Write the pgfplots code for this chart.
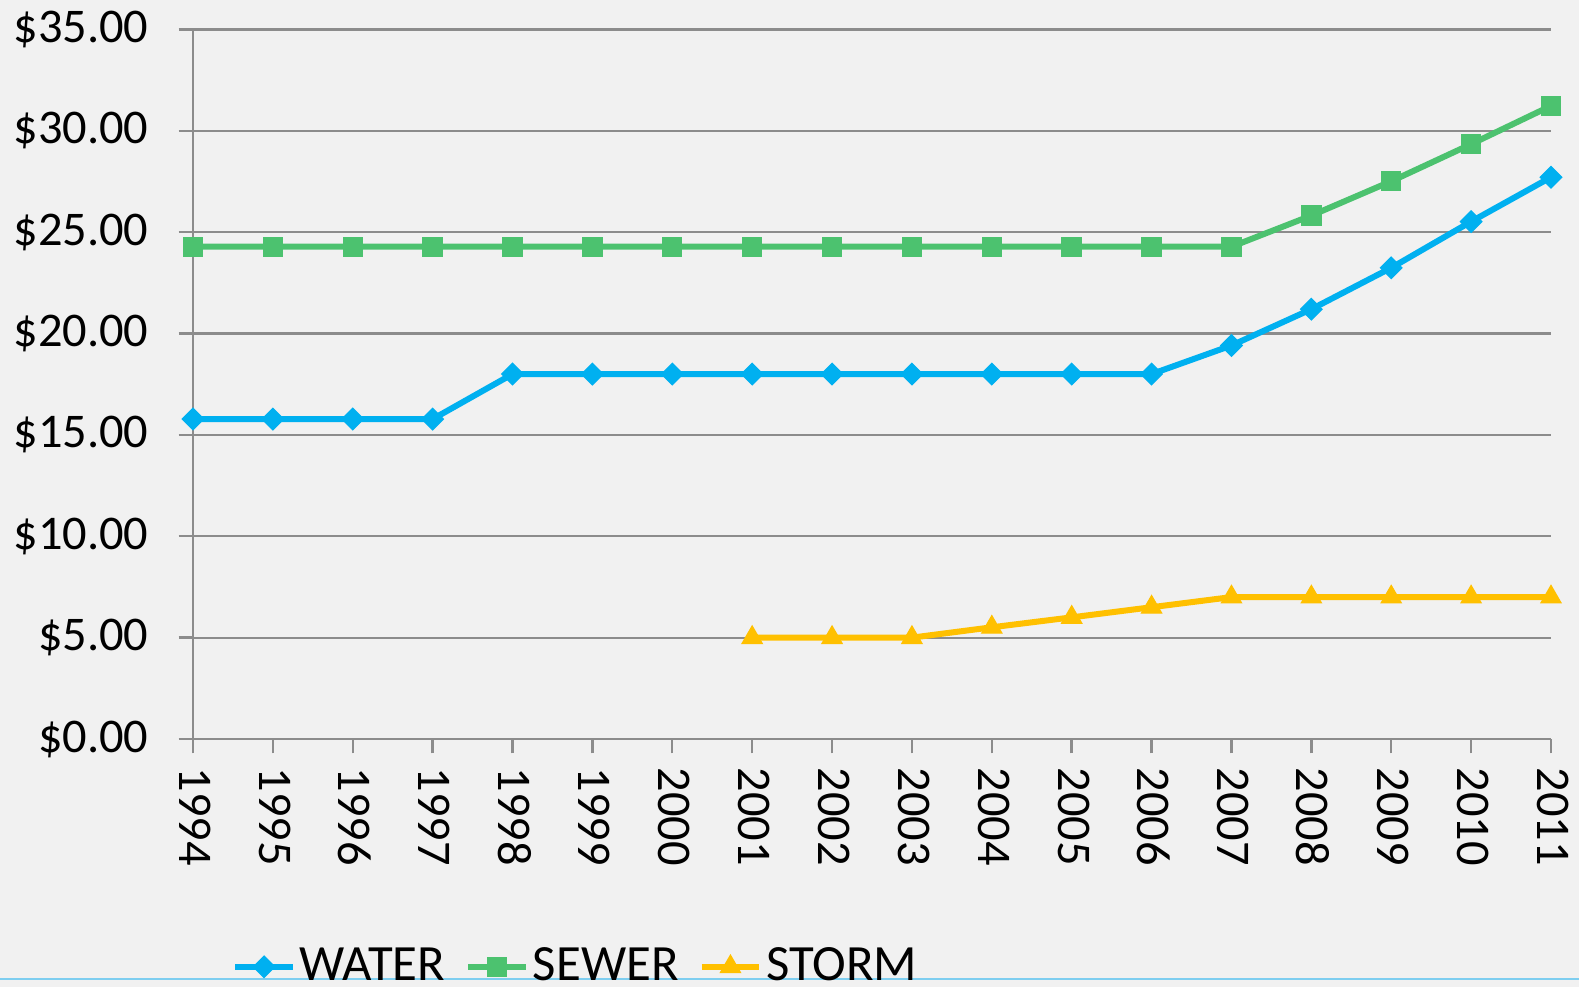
\documentclass[border=0pt]{standalone}
\usepackage{fontspec}
\setmainfont{Carlito}
\usepackage{pgfplots}
\pgfplotsset{compat=1.18}
\definecolor{bg}{HTML}{F1F1F1}
\definecolor{water}{HTML}{00B0F0}
\definecolor{sewer}{HTML}{4CC26F}
\definecolor{storm}{HTML}{FFC000}
\definecolor{gridc}{HTML}{8C8C8C}
\definecolor{lb}{HTML}{7ECEF0}
\begin{document}
\begin{tikzpicture}
\useasboundingbox (-48.25pt,-62pt) rectangle (346.5pt,184.75pt);
\fill[bg] (-48.25pt,-62pt) rectangle (346.5pt,184.75pt);
\draw[lb, line width=0.6pt] (-48.25pt,-60pt) -- (346.5pt,-60pt);
\begin{axis}[
  at={(0pt,0pt)}, anchor=south west,
  scale only axis, width=339.5pt, height=177.4pt,
  xmin=0, xmax=17, ymin=0, ymax=35,
  axis x line*=bottom, axis y line*=left,
  axis line style={gridc, line width=0.6pt, -},
  xtick={0,1,2,3,4,5,6,7,8,9,10,11,12,13,14,15,16,17},
  xticklabels={1994,1995,1996,1997,1998,1999,2000,2001,2002,2003,2004,2005,2006,2007,2008,2009,2010,2011},
  ytick={0,5,10,15,20,25,30,35},
  yticklabels={\$0.00,\$5.00,\$10.00,\$15.00,\$20.00,\$25.00,\$30.00,\$35.00},
  tick align=outside,
  tick style={gridc, line width=0.6pt},
  major tick length=3.6pt,
  ymajorgrids,
  grid style={gridc, line width=0.55pt},
  tick label style={font=\fontsize{12.1}{14}\selectfont, text=black},
  xticklabel style={rotate=-90, anchor=west, yshift=0.5pt},
  yticklabel style={xshift=-4pt},
  clip=false,
  legend columns=3,
  legend style={at={(0.0195,-0.321)}, anchor=west, draw=none, fill=none,
    font=\fontsize{12.7}{15}\selectfont,
    /tikz/every odd column/.style={column sep=0pt},
    /tikz/every even column/.style={column sep=4pt},
    nodes={inner sep=1pt}},
  legend image code/.code={
    \draw[mark repeat=2,mark phase=2] plot coordinates {(0pt,0pt) (7.2pt,0pt) (14.4pt,0pt)};
  },
]
\addplot[water, line width=1.5pt, mark=square*, mark size=1.9pt, mark options={rotate=45, fill=water, draw=water, line width=0.3pt}]
coordinates {(0,15.78)(1,15.78)(2,15.78)(3,15.78)(4,18.00)(5,18.00)(6,18.00)(7,18.00)(8,18.00)(9,18.00)(10,18.00)(11,18.00)(12,18.00)(13,19.41)(14,21.20)(15,23.24)(16,25.52)(17,27.71)};
\addlegendentry{WATER}
\addplot[sewer, line width=1.5pt, mark=square*, mark size=2.4pt, mark options={fill=sewer, draw=sewer, line width=0.3pt}]
coordinates {(0,24.28)(1,24.28)(2,24.28)(3,24.28)(4,24.28)(5,24.28)(6,24.28)(7,24.28)(8,24.28)(9,24.28)(10,24.28)(11,24.28)(12,24.28)(13,24.28)(14,25.82)(15,27.51)(16,29.34)(17,31.23)};
\addlegendentry{SEWER}
\addplot[storm, line width=1.5pt, mark=triangle*, mark size=2.9pt, mark options={fill=storm, draw=storm, line width=0.3pt}]
coordinates {(7,5.00)(8,5.00)(9,5.00)(10,5.51)(11,6.00)(12,6.50)(13,7.00)(14,7.00)(15,7.00)(16,7.00)(17,7.00)};
\addlegendentry{STORM}
\end{axis}
\end{tikzpicture}
\end{document}
